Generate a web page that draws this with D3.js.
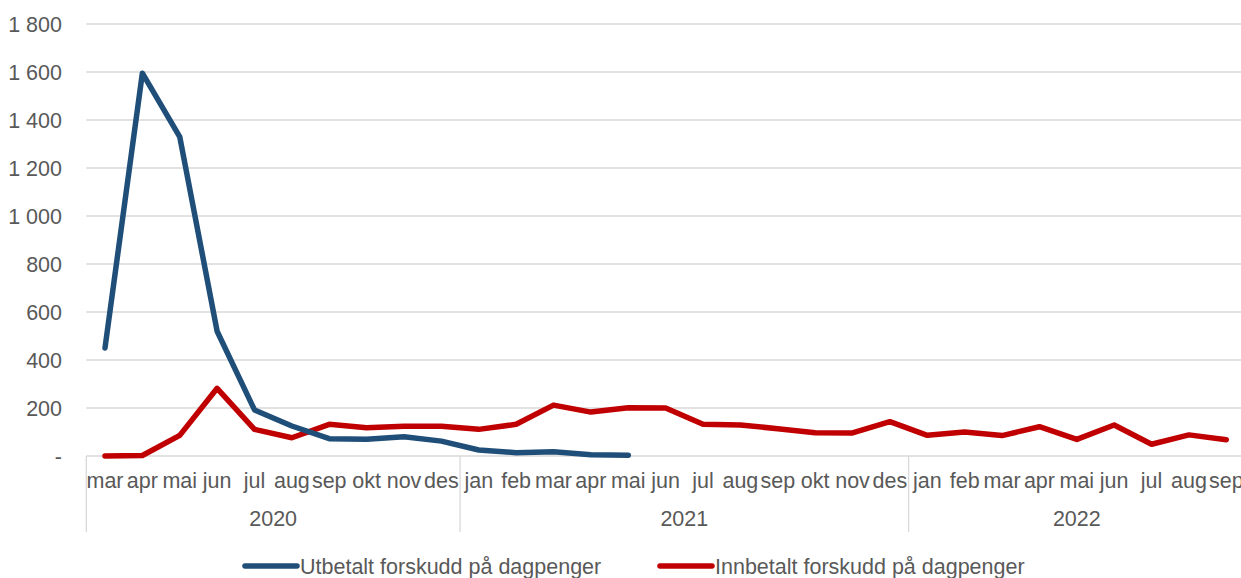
<!DOCTYPE html>
<html lang="no">
<head>
<meta charset="UTF-8">
<title>Forskudd på dagpenger</title>
<script src="https://d3js.org/d3.v7.min.js"></script>
<style>
  body { margin: 0; background: #fff; }
  svg { display: block; font-family: "Liberation Sans", Arial, sans-serif; }
</style>
</head>
<body>
<svg id="chart" width="1241" height="578"></svg>
<script>
// månedene, mars 2020 til september 2022
const months = ["mar","apr","mai","jun","jul","aug","sep","okt","nov","des",
  "jan","feb","mar","apr","mai","jun","jul","aug","sep","okt","nov","des",
  "jan","feb","mar","apr","mai","jun","jul","aug","sep"];
const years = [
  { label: "2020", from: 0, to: 10 },
  { label: "2021", from: 10, to: 22 },
  { label: "2022", from: 22, to: 31 }
];
const utbetalt = [450, 1595, 1330, 520, 192, 125, 72, 70, 80, 62,
  25, 14, 18, 5, 3];
const innbetalt = [0, 2, 86, 282, 111, 76, 132, 118, 124, 124,
  111, 132, 212, 183, 201, 200, 132, 129, 114, 97, 96, 143,
  86, 100, 85, 122, 69, 129, 49, 88, 68];
const yTicks = [0, 200, 400, 600, 800, 1000, 1200, 1400, 1600, 1800];

const svg = d3.select("#chart");
const mLeft = 86.3, mRight = 1245, mTop = 24, mBottom = 456;
const grey = "#595959";
const fs = 21.5;

const x = d3.scaleBand().domain(d3.range(months.length)).range([mLeft, mRight]).padding(0);
const y = d3.scaleLinear().domain([0, 1800]).range([mBottom, mTop]);
const cx = i => x(i) + x.bandwidth() / 2;

// rutenett
svg.append("g").selectAll("line").data(yTicks.slice(1)).join("line")
  .attr("x1", mLeft).attr("x2", 1241)
  .attr("y1", d => y(d)).attr("y2", d => y(d))
  .attr("stroke", "#d9d9d9").attr("stroke-width", 1.3);

// y-akse tekster
const fmt = d => d === 0 ? "-" : d3.format(",")(d).replace(/,/g, " ");
svg.append("g").selectAll("text").data(yTicks).join("text")
  .attr("x", 62).attr("y", d => y(d) + 7.5)
  .attr("text-anchor", "end")
  .attr("font-size", fs).attr("fill", grey)
  .text(fmt);

// x-akse
svg.append("line").attr("x1", mLeft).attr("x2", 1241)
  .attr("y1", mBottom).attr("y2", mBottom)
  .attr("stroke", "#d9d9d9").attr("stroke-width", 1.3);
const seps = [0, 10, 22];
svg.append("g").selectAll("line").data(seps).join("line")
  .attr("x1", d => x(d)).attr("x2", d => x(d))
  .attr("y1", mBottom).attr("y2", 532)
  .attr("stroke", "#d9d9d9").attr("stroke-width", 1.3);

svg.append("g").selectAll("text").data(months).join("text")
  .attr("x", (d, i) => cx(i)).attr("y", 488)
  .attr("text-anchor", "middle")
  .attr("font-size", fs).attr("fill", grey)
  .text(d => d);

svg.append("g").selectAll("text").data(years).join("text")
  .attr("x", d => (x(d.from) + (d.to < months.length ? x(d.to) : mRight)) / 2)
  .attr("y", 526)
  .attr("text-anchor", "middle")
  .attr("font-size", fs).attr("fill", grey)
  .text(d => d.label);

// linjer
const line = d3.line().x((d, i) => cx(i)).y(d => y(d));
svg.append("path").datum(innbetalt)
  .attr("d", line).attr("fill", "none")
  .attr("stroke", "#c00000").attr("stroke-width", 5.5)
  .attr("stroke-linejoin", "round").attr("stroke-linecap", "round");
svg.append("path").datum(utbetalt)
  .attr("d", line).attr("fill", "none")
  .attr("stroke", "#1f4e79").attr("stroke-width", 5.5)
  .attr("stroke-linejoin", "round").attr("stroke-linecap", "round");

// forklaring
const legend = [
  { label: "Utbetalt forskudd på dagpenger", color: "#1f4e79", x: 245 },
  { label: "Innbetalt forskudd på dagpenger", color: "#c00000", x: 660 }
];
const lg = svg.append("g").selectAll("g").data(legend).join("g");
lg.append("line")
  .attr("x1", d => d.x).attr("x2", d => d.x + 52)
  .attr("y1", 566).attr("y2", 566)
  .attr("stroke", d => d.color).attr("stroke-width", 5.5)
  .attr("stroke-linecap", "round");
lg.append("text")
  .attr("x", d => d.x + 55).attr("y", 573.5)
  .attr("font-size", fs).attr("fill", grey)
  .text(d => d.label);
</script>
</body>
</html>
